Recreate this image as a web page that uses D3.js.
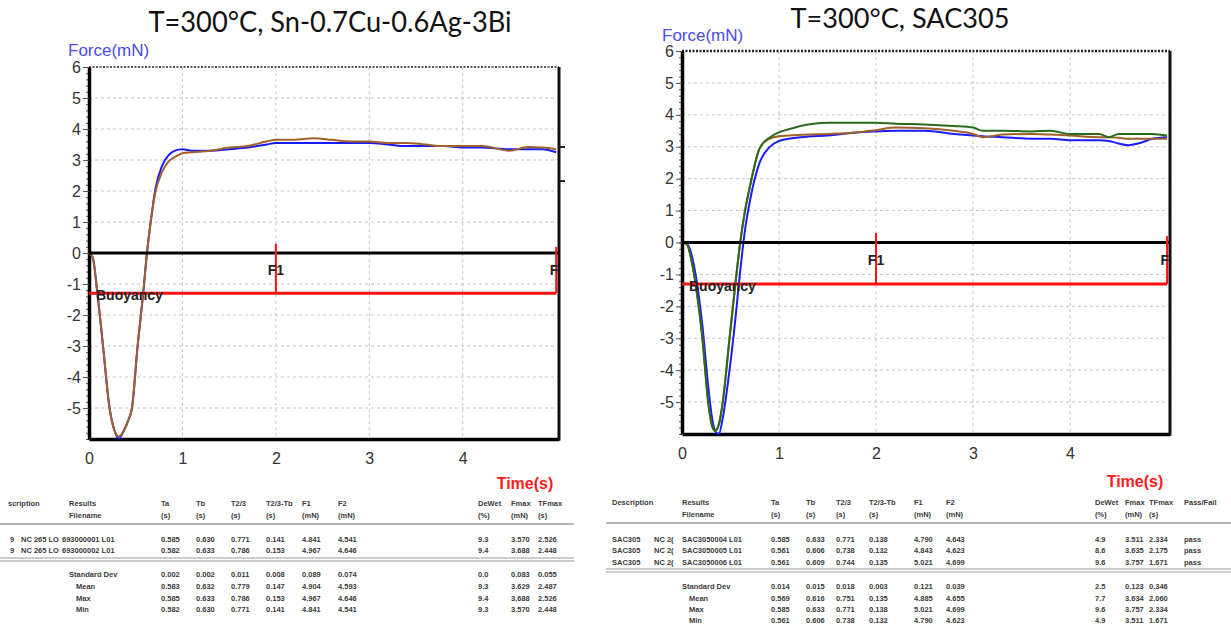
<!DOCTYPE html>
<html>
<head>
<meta charset="utf-8">
<script src="https://cdn.jsdelivr.net/npm/d3@7"></script>
<style>
  body { margin: 0; background: #fff; }
  text { font-family: Arial, "Liberation Sans", sans-serif; }
</style>
</head>
<body>
<svg id="chart" width="1231" height="626"></svg>
<script>
// ---- data ----
var titles = ["T=300°C, Sn-0.7Cu-0.6Ag-3Bi", "T=300°C, SAC305"];
var yTicks = [-5, -4, -3, -2, -1, 0, 1, 2, 3, 4, 5, 6];
var xTicks = [0, 1, 2, 3, 4];
var buoyancy = -1.3;
var f1Time = 2, f2Time = 5.0;

// Sn-0.7Cu-0.6Ag-3Bi, time (s) and force (mN)
var leftTime = [0, 0.04, 0.09, 0.15, 0.22, 0.27, 0.32, 0.37, 0.42, 0.46, 0.52, 0.58, 0.62, 0.66, 0.71, 0.78, 0.85, 0.92, 1.0,
  1.1, 1.3, 1.5, 1.7, 1.9, 2.0, 2.2, 2.4, 2.6, 2.8, 3.0, 3.2, 3.4, 3.6, 3.8, 4.0, 4.2, 4.5, 4.7, 4.85, 5.0];
var leftBlue = [0, -0.15, -1.3, -3.0, -5.0, -5.7, -5.98, -5.75, -5.4, -5.0, -3.0, -1.3, 0.0, 1.0, 2.05, 2.8, 3.15, 3.3, 3.35,
  3.3, 3.3, 3.35, 3.4, 3.5, 3.55, 3.55, 3.55, 3.55, 3.55, 3.55, 3.5, 3.45, 3.45, 3.45, 3.4, 3.4, 3.35, 3.35, 3.35, 3.25];
var leftBrown = [0, -0.15, -1.3, -3.0, -5.0, -5.7, -5.92, -5.75, -5.4, -5.0, -3.0, -1.3, 0.0, 1.0, 1.95, 2.6, 2.95, 3.1, 3.22,
  3.25, 3.3, 3.4, 3.45, 3.6, 3.65, 3.65, 3.7, 3.65, 3.6, 3.6, 3.55, 3.55, 3.5, 3.45, 3.45, 3.45, 3.3, 3.42, 3.4, 3.35];
var leftMarks = [3.42, 2.32];

// SAC305
var rightTime = [0, 0.05, 0.1, 0.14, 0.21, 0.27, 0.31, 0.34, 0.38, 0.42, 0.49, 0.55, 0.6, 0.65, 0.7, 0.8, 0.9, 1.0, 1.1, 1.3,
  1.5, 1.8, 2.0, 2.2, 2.5, 2.8, 3.0, 3.1, 3.3, 3.6, 3.8, 4.0, 4.3, 4.4, 4.5, 4.6, 4.7, 4.85, 5.0];
var rightBlue = [0, -0.03, -0.4, -1.0, -2.6, -4.5, -5.5, -5.9, -6.0, -5.5, -4.0, -2.4, -0.9, 0.4, 1.3, 2.5, 2.98, 3.18, 3.25, 3.32,
  3.35, 3.45, 3.48, 3.5, 3.5, 3.4, 3.35, 3.33, 3.3, 3.25, 3.25, 3.2, 3.2, 3.18, 3.1, 3.05, 3.1, 3.25, 3.3];
var rightBrown = [0, -0.05, -0.6, -1.3, -3.0, -5.0, -5.75, -5.9, -5.7, -5.0, -3.0, -1.3, 0.0, 1.0, 1.75, 2.95, 3.25, 3.33, 3.35, 3.38,
  3.4, 3.45, 3.52, 3.6, 3.58, 3.5, 3.4, 3.3, 3.38, 3.4, 3.38, 3.35, 3.3, 3.3, 3.28, 3.25, 3.25, 3.25, 3.25];
var rightGreen = [0, -0.05, -0.6, -1.3, -3.0, -5.0, -5.75, -5.9, -5.7, -5.0, -3.0, -1.3, 0.0, 1.0, 1.75, 2.95, 3.28, 3.45, 3.55, 3.7,
  3.75, 3.75, 3.75, 3.72, 3.7, 3.65, 3.6, 3.5, 3.5, 3.48, 3.5, 3.4, 3.4, 3.3, 3.4, 3.4, 3.4, 3.4, 3.35];

// tables
var leftHead1 = ["scription", "Results", "Ta", "Tb", "T2/3", "T2/3-Tb", "F1", "F2", "DeWet", "Fmax", "TFmax"];
var leftHead2 = ["", "Filename", "(s)", "(s)", "(s)", "(s)", "(mN)", "(mN)", "(%)", "(mN)", "(s)"];
var leftRows = [
  ["9", "NC 265 LO", "693000001 L01", "0.585", "0.630", "0.771", "0.141", "4.841", "4.541", "9.3", "3.570", "2.526"],
  ["9", "NC 265 LO", "693000002 L01", "0.582", "0.633", "0.786", "0.153", "4.967", "4.646", "9.4", "3.688", "2.448"]
];
var leftStats = [
  ["Standard Dev", "0.002", "0.002", "0.011", "0.008", "0.089", "0.074", "0.0", "0.083", "0.055"],
  ["Mean", "0.583", "0.632", "0.779", "0.147", "4.904", "4.593", "9.3", "3.629", "2.487"],
  ["Max", "0.585", "0.633", "0.786", "0.153", "4.967", "4.646", "9.4", "3.688", "2.526"],
  ["Min", "0.582", "0.630", "0.771", "0.141", "4.841", "4.541", "9.3", "3.570", "2.448"]
];
var rightHead1 = ["Description", "Results", "Ta", "Tb", "T2/3", "T2/3-Tb", "F1", "F2", "DeWet", "Fmax", "TFmax", "Pass/Fail"];
var rightHead2 = ["", "Filename", "(s)", "(s)", "(s)", "(s)", "(mN)", "(mN)", "(%)", "(mN)", "(s)", ""];
var rightRows = [
  ["SAC305", "NC 2(", "SAC3050004 L01", "0.585", "0.633", "0.771", "0.138", "4.790", "4.643", "4.9", "3.511", "2.334", "pass"],
  ["SAC305", "NC 2(", "SAC3050005 L01", "0.561", "0.606", "0.738", "0.132", "4.843", "4.623", "8.6", "3.635", "2.175", "pass"],
  ["SAC305", "NC 2(", "SAC3050006 L01", "0.561", "0.609", "0.744", "0.135", "5.021", "4.699", "9.6", "3.757", "1.671", "pass"]
];
var rightStats = [
  ["Standard Dev", "0.014", "0.015", "0.018", "0.003", "0.121", "0.039", "2.5", "0.123", "0.346"],
  ["Mean", "0.569", "0.616", "0.751", "0.135", "4.885", "4.655", "7.7", "3.634", "2.060"],
  ["Max", "0.585", "0.633", "0.771", "0.138", "5.021", "4.699", "9.6", "3.757", "2.334"],
  ["Min", "0.561", "0.606", "0.738", "0.132", "4.790", "4.623", "4.9", "3.511", "1.671"]
];

var svg = d3.select("#chart");

function drawPanel(p) {
  var g = svg.append("g");
  var x = d3.scaleLinear().domain([0, 5.03]).range([p.x0, p.x1]);
  var y = d3.scaleLinear().domain([-6, 6]).range([p.y1, p.y0]);

  // title + axis caption
  g.append("text").attr("x", p.titleX).attr("y", p.titleY)
    .attr("text-anchor", "middle").style("font-family", "Lato, 'Open Sans', sans-serif")
    .style("font-size", p.titleSize + "px").attr("fill", "#111")
    .attr("textLength", p.titleW).attr("lengthAdjust", "spacingAndGlyphs").text(p.title);
  g.append("text").attr("x", p.forceX).attr("y", p.forceY)
    .style("font-size", "17px").attr("fill", "#4a4af0").text("Force(mN)");

  // dashed grid
  g.selectAll(".hg").data(d3.range(-5, 6)).enter().append("line")
    .attr("x1", p.x0).attr("x2", p.x1)
    .attr("y1", function(d){ return y(d); }).attr("y2", function(d){ return y(d); })
    .attr("stroke", "#c4c4c4").attr("stroke-dasharray", "3,3");
  g.selectAll(".vg").data(d3.range(1, 5)).enter().append("line")
    .attr("y1", p.y0).attr("y2", p.y1)
    .attr("x1", function(d){ return x(d); }).attr("x2", function(d){ return x(d); })
    .attr("stroke", "#c4c4c4").attr("stroke-dasharray", "3,3");

  // top dotted edge
  g.append("line").attr("x1", p.x0).attr("x2", p.x1).attr("y1", y(6)).attr("y2", y(6))
    .attr("stroke", "#222").attr("stroke-width", p.topW).attr("stroke-dasharray", "2,1.5");

  // minor ticks
  var minor = d3.axisLeft(y).tickValues(d3.range(-30, 31).map(function(d){ return d / 5; }))
    .tickSize(3).tickSizeOuter(0).tickFormat("");
  g.append("g").attr("transform", "translate(" + p.x0 + ",0)").call(minor)
    .call(function(a){ a.select(".domain").remove(); a.selectAll("line").attr("stroke", "#555"); });

  var yAxis = d3.axisLeft(y).tickValues(yTicks).tickSize(6).tickSizeOuter(0).tickPadding(2)
    .tickFormat(function(d){ return String(d); });
  g.append("g").attr("transform", "translate(" + p.x0 + ",0)").call(yAxis)
    .call(function(a){
      a.select(".domain").attr("stroke", "#000").attr("stroke-width", 3.5);
      a.selectAll(".tick line").attr("stroke", "#555");
      a.selectAll("text").style("font-size", "16px").attr("fill", "#333");
    });

  var xAxis = d3.axisBottom(x).tickValues(xTicks).tickSize(0).tickSizeOuter(0).tickPadding(p.xPad)
    .tickFormat(function(d){ return String(d); });
  g.append("g").attr("transform", "translate(0," + p.y1 + ")").call(xAxis)
    .call(function(a){
      a.select(".domain").attr("stroke", "#000").attr("stroke-width", 3.5);
      a.selectAll("text").style("font-size", "16px").attr("fill", "#333");
    });

  // right border
  g.append("line").attr("x1", p.x1).attr("x2", p.x1).attr("y1", p.y0).attr("y2", p.y1 + 1.5)
    .attr("stroke", "#111").attr("stroke-width", 3);
  (p.marks || []).forEach(function(m){
    g.append("line").attr("x1", p.x1).attr("x2", p.x1 + 6).attr("y1", y(m)).attr("y2", y(m))
      .attr("stroke", "#222").attr("stroke-width", 2);
  });

  // curves
  var line = d3.line().x(function(d){ return x(d[0]); }).y(function(d){ return y(d[1]); })
    .curve(d3.curveMonotoneX);
  p.series.forEach(function(s){
    g.append("path").datum(d3.zip(p.time, s.values))
      .attr("fill", "none").attr("stroke", s.color).attr("stroke-width", 2).attr("d", line);
  });

  // zero line, buoyancy and F markers
  g.append("line").attr("x1", x(0)).attr("x2", p.x1).attr("y1", y(0)).attr("y2", y(0))
    .attr("stroke", "#000").attr("stroke-width", 3);
  g.append("line").attr("x1", x(0)).attr("x2", x(f2Time)).attr("y1", y(buoyancy)).attr("y2", y(buoyancy))
    .attr("stroke", "#ff1010").attr("stroke-width", 3);
  g.append("line").attr("x1", x(f1Time)).attr("x2", x(f1Time)).attr("y1", y(0.3)).attr("y2", y(buoyancy))
    .attr("stroke", "#ff1010").attr("stroke-width", 2);
  g.append("line").attr("x1", x(f2Time)).attr("x2", x(f2Time)).attr("y1", y(0.2)).attr("y2", y(buoyancy))
    .attr("stroke", "#ff1010").attr("stroke-width", 2);

  g.append("text").attr("x", x(f1Time)).attr("y", y(-0.55) + 5).attr("text-anchor", "middle")
    .style("font-size", "14px").style("font-weight", "bold").attr("fill", "#222").text("F1");
  g.append("text").attr("x", x(f2Time) + 2).attr("y", y(-0.55) + 5).attr("text-anchor", "end")
    .style("font-size", "14px").style("font-weight", "bold").attr("fill", "#222").text("F");
  g.append("text").attr("x", x(0) + 7).attr("y", y(buoyancy) + 7)
    .style("font-size", "14px").style("font-weight", "bold").attr("fill", "#222").text("Buoyancy");

  g.append("text").attr("x", p.timeX).attr("y", p.timeY).attr("text-anchor", "middle")
    .style("font-size", "16px").style("font-weight", "bold").attr("fill", "#ff1a1a").text("Time(s)");
}

function drawTable(t) {
  var g = svg.append("g").style("font-size", "7.5px").style("font-weight", "bold").attr("fill", "#3a3a3a");
  function row(cells, xs, yy) {
    cells.forEach(function(c, i){
      if (c !== "") g.append("text").attr("x", xs[i]).attr("y", yy).text(c);
    });
  }
  row(t.head1, t.headX, t.rowY[0]);
  row(t.head2, t.headX, t.rowY[1]);
  g.append("line").attr("x1", t.lineX0).attr("x2", t.lineX1).attr("y1", t.ruleY).attr("y2", t.ruleY)
    .attr("stroke", "#9a9a9a").attr("stroke-width", 1.5);
  t.rows.forEach(function(r, i){ row(r, t.dataX, t.dataY[i]); });
  [t.doubleY, t.doubleY + 3].forEach(function(yy){
    g.append("line").attr("x1", t.lineX0).attr("x2", t.lineX1).attr("y1", yy).attr("y2", yy)
      .attr("stroke", "#9a9a9a").attr("stroke-width", 1.2);
  });
  t.stats.forEach(function(r, i){
    // "Mean", "Max", "Min" sit a little to the right of "Standard Dev"
    row(r, [t.statX[0] + (i ? 7 : 0)].concat(t.statX.slice(1)), t.statY[i]);
  });
}

drawPanel({
  title: titles[0], titleX: 330, titleY: 32, titleW: 363, titleSize: 29, forceX: 68, forceY: 56,
  x0: 89, x1: 559, y0: 67, y1: 439, topW: 1.5, xPad: 14,
  timeX: 525, timeY: 489, marks: leftMarks, time: leftTime,
  series: [{ values: leftBlue, color: "#1a1aff" }, { values: leftBrown, color: "#a0602a" }]
});
drawPanel({
  title: titles[1], titleX: 900, titleY: 28, titleW: 219, titleSize: 27, forceX: 662, forceY: 41,
  x0: 682, x1: 1170, y0: 51, y1: 434, topW: 2.5, xPad: 14,
  timeX: 1135, timeY: 487, marks: [], time: rightTime,
  series: [{ values: rightBlue, color: "#1a1aff" }, { values: rightBrown, color: "#a0602a" },
           { values: rightGreen, color: "#2a6a1e" }]
});

var lcols = [161, 196, 231, 266, 302, 338, 478, 511, 538];
drawTable({
  head1: leftHead1, head2: leftHead2, headX: [8, 69].concat(lcols), rowY: [506, 518],
  rows: leftRows, dataX: [10, 21, 62].concat(lcols), dataY: [542, 553],
  stats: leftStats, statX: [69].concat(lcols), statY: [577, 589, 601, 612],
  lineX0: 0, lineX1: 574, ruleY: 524, doubleY: 558
});
var rcols = [771, 806, 836, 869, 914, 946, 1095, 1125, 1149];
drawTable({
  head1: rightHead1, head2: rightHead2, headX: [612, 682].concat(rcols).concat([1184]), rowY: [505, 517],
  rows: rightRows, dataX: [612, 654, 682].concat(rcols).concat([1184]), dataY: [542, 553, 565],
  stats: rightStats, statX: [682].concat(rcols), statY: [589, 601, 612, 623],
  lineX0: 606, lineX1: 1231, ruleY: 523, doubleY: 569
});
</script>
</body>
</html>
